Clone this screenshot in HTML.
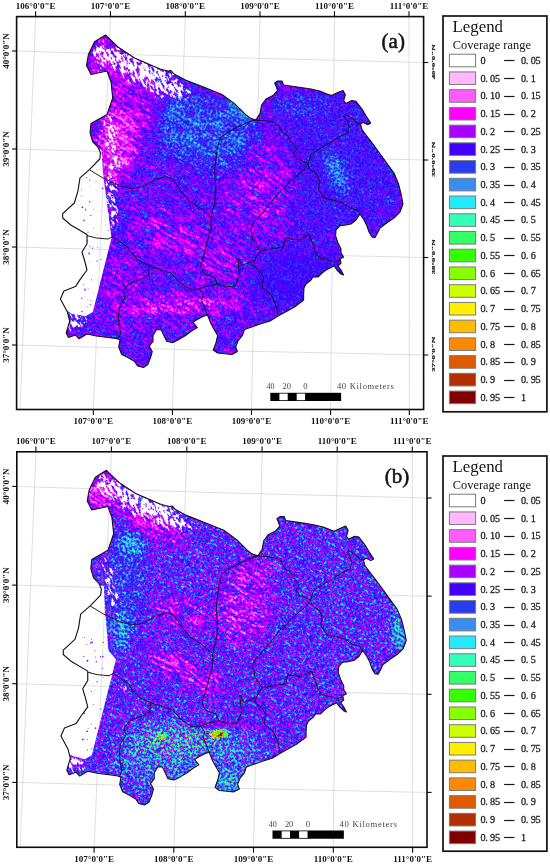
<!DOCTYPE html>
<html><head><meta charset="utf-8"><title>Coverage range maps</title>
<style>
html,body{margin:0;padding:0;background:#fff;}
body{width:550px;height:864px;overflow:hidden;}
svg{display:block;font-family:"Liberation Serif",serif;}
.tk{font-size:9px;font-weight:bold;fill:#111;}
.tr{font-size:5.2px;font-weight:bold;fill:#333;}
.lg{font-size:10.2px;fill:#1c1c1c;stroke:#1c1c1c;stroke-width:0.28px;}
.ld{stroke-width:0.7px;}
.sb{font-size:8.6px;fill:#444;}
.pl{font-size:21px;fill:#111;stroke:#111;stroke-width:0.5px;}
</style></head><body>
<svg width="550" height="864" viewBox="0 0 550 864">
<defs><filter id="b1" x="-50%" y="-50%" width="200%" height="200%" color-interpolation-filters="sRGB"><feGaussianBlur stdDeviation="1"/></filter><filter id="b2" x="-50%" y="-50%" width="200%" height="200%" color-interpolation-filters="sRGB"><feGaussianBlur stdDeviation="2"/></filter><filter id="b4" x="-50%" y="-50%" width="200%" height="200%" color-interpolation-filters="sRGB"><feGaussianBlur stdDeviation="4"/></filter><filter id="b6" x="-50%" y="-50%" width="200%" height="200%" color-interpolation-filters="sRGB"><feGaussianBlur stdDeviation="6"/></filter><filter id="b8" x="-50%" y="-50%" width="200%" height="200%" color-interpolation-filters="sRGB"><feGaussianBlur stdDeviation="8"/></filter><filter id="b10" x="-50%" y="-50%" width="200%" height="200%" color-interpolation-filters="sRGB"><feGaussianBlur stdDeviation="10"/></filter><filter id="b14" x="-50%" y="-50%" width="200%" height="200%" color-interpolation-filters="sRGB"><feGaussianBlur stdDeviation="14"/></filter><clipPath id="clipwa"><polygon points="40,140 101.5,150 103,173 106,196 109,219 111.5,238 92.8,312 86,316 72,314 60,306 40,300"/></clipPath><clipPath id="clipwb"><polygon points="40,140 103,150 104,173 106,196 107.5,214 115,223 91,318 84,322 70,318 60,306 40,300"/></clipPath><clipPath id="clipmap"><polygon points="105.5,35.0 118.0,47.0 134.5,58.0 160.0,69.0 168.0,71.0 171.0,70.5 174.0,74.0 185.5,80.0 203.6,87.0 222.0,94.5 234.5,103.6 245.5,114.5 250.0,118.0 255.8,120.0 260.0,113.6 261.6,105.0 266.0,99.0 273.0,95.6 277.6,90.4 274.7,83.0 277.6,81.0 282.0,81.0 283.5,85.0 290.7,86.0 301.0,87.5 311.0,89.0 319.8,91.0 327.0,93.9 331.5,95.6 337.3,92.7 343.0,90.4 345.4,94.7 343.7,100.5 346.0,103.5 351.8,100.5 356.0,101.4 362.0,109.0 366.4,116.5 370.7,123.0 367.8,124.7 363.5,122.4 360.5,123.8 362.0,129.6 366.4,135.5 372.0,142.7 379.5,153.0 386.7,163.0 394.0,173.0 398.4,183.5 401.3,195.0 403.0,204.0 400.0,212.0 394.0,218.0 388.0,222.0 380.0,228.0 377.0,234.0 375.0,237.6 372.0,237.0 369.0,232.0 367.0,226.0 364.0,220.0 360.0,214.0 356.0,220.0 351.0,224.0 346.0,225.0 340.0,225.6 336.0,230.0 335.6,236.0 338.0,243.0 341.0,249.0 341.0,253.0 343.6,257.0 340.0,259.0 341.0,263.0 338.0,266.0 341.0,270.0 343.6,275.0 341.0,274.0 337.0,270.0 334.0,266.0 330.0,268.0 326.0,270.0 322.0,273.0 318.0,277.0 313.0,277.0 311.0,280.0 306.0,284.0 304.0,288.0 303.6,294.5 303.6,300.0 294.5,307.0 278.0,316.0 270.0,321.0 261.0,323.8 252.5,326.7 244.4,329.6 242.4,335.5 238.0,341.0 235.7,347.0 237.4,351.5 232.0,354.4 225.0,353.8 217.6,353.0 213.3,350.0 216.0,342.7 217.6,335.5 213.3,328.0 210.4,322.4 207.5,315.0 203.0,316.5 197.3,319.5 193.0,322.4 197.3,327.6 191.5,331.0 185.6,335.5 178.4,339.8 172.5,342.7 166.7,341.3 163.8,335.5 161.0,329.6 156.5,329.6 153.0,335.5 153.0,341.3 149.3,346.2 152.2,351.5 150.7,357.3 147.8,364.5 143.5,367.5 137.6,366.0 134.7,361.6 127.5,357.3 121.6,354.4 118.7,347.0 120.0,339.8 115.8,338.4 107.9,337.5 96.3,336.0 87.0,334.0 79.0,338.7 75.5,335.0 68.5,337.5 66.2,333.0 69.7,321.0 67.4,312.0 60.4,299.0 63.9,291.0 75.5,286.6 80.0,279.6 87.0,270.0 84.7,261.0 82.0,252.0 87.0,243.8 87.0,234.5 70.8,225.0 62.7,218.0 62.7,213.7 74.3,203.0 77.8,191.7 80.0,177.8 89.4,169.7 99.8,159.0 100.5,153.0 98.0,147.0 92.7,141.8 90.0,132.7 91.0,123.6 107.0,114.5 112.7,98.0 111.0,82.0 107.0,71.0 91.0,74.5 86.5,65.5 88.4,54.5 94.5,41.8"/></clipPath><filter id="texa" filterUnits="userSpaceOnUse" x="-100" y="-150" width="700" height="700" color-interpolation-filters="sRGB"><feColorMatrix in="SourceGraphic" type="matrix" values="1 0 0 0 0  1 0 0 0 0  1 0 0 0 0  0 0 0 0 1" result="V"/><feColorMatrix in="SourceGraphic" type="matrix" values="0 1 0 0 0  0 1 0 0 0  0 1 0 0 0  0 0 0 0 1" result="MI"/><feColorMatrix in="SourceGraphic" type="matrix" values="0 0 1 0 0  0 0 1 0 0  0 0 1 0 0  0 0 0 0 1" result="MA"/><feTurbulence type="fractalNoise" baseFrequency="0.07 0.36" numOctaves="3" seed="3" result="nA"/><feColorMatrix in="nA" type="matrix" values="1.5 0 0 0 -0.450  1.5 0 0 0 -0.450  1.5 0 0 0 -0.450  0 0 0 0 1" result="NA"/><feTurbulence type="fractalNoise" baseFrequency="0.42 0.42" numOctaves="2" seed="10" result="nI"/><feColorMatrix in="nI" type="matrix" values="1.5 0 0 0 -0.450  1.5 0 0 0 -0.450  1.5 0 0 0 -0.450  0 0 0 0 1" result="NI"/><feComposite in="MI" in2="NI" operator="arithmetic" k1="1" k2="0" k3="0" k4="0" result="pI"/><feComposite in="MA" in2="NA" operator="arithmetic" k1="1" k2="0" k3="0" k4="0" result="pA"/><feComposite in="V" in2="pI" operator="arithmetic" k1="0" k2="1" k3="1" k4="0" result="e1"/><feComposite in="e1" in2="pA" operator="arithmetic" k1="0" k2="1" k3="1" k4="0" result="v"/><feComponentTransfer in="v"><feFuncR type="discrete" tableValues="1.000 1.000 1.000 1.000 0.667 0.267 0.165 0.231 0.133 0.200 0.200 0.200 0.533 0.800 1.000 1.000 1.000 0.878 0.690 0.502"/><feFuncG type="discrete" tableValues="1.000 0.722 0.361 0.000 0.000 0.000 0.235 0.549 0.918 1.000 1.000 1.000 1.000 1.000 0.933 0.733 0.533 0.353 0.188 0.000"/><feFuncB type="discrete" tableValues="1.000 1.000 1.000 1.000 1.000 1.000 0.941 0.941 1.000 0.733 0.400 0.000 0.000 0.000 0.000 0.000 0.000 0.000 0.000 0.000"/></feComponentTransfer><feGaussianBlur stdDeviation="0.55"/></filter><filter id="texb" filterUnits="userSpaceOnUse" x="-100" y="-150" width="700" height="700" color-interpolation-filters="sRGB"><feColorMatrix in="SourceGraphic" type="matrix" values="1 0 0 0 0  1 0 0 0 0  1 0 0 0 0  0 0 0 0 1" result="V"/><feColorMatrix in="SourceGraphic" type="matrix" values="0 1 0 0 0  0 1 0 0 0  0 1 0 0 0  0 0 0 0 1" result="MI"/><feColorMatrix in="SourceGraphic" type="matrix" values="0 0 1 0 0  0 0 1 0 0  0 0 1 0 0  0 0 0 0 1" result="MA"/><feTurbulence type="fractalNoise" baseFrequency="0.07 0.36" numOctaves="3" seed="11" result="nA"/><feColorMatrix in="nA" type="matrix" values="1.5 0 0 0 -0.450  1.5 0 0 0 -0.450  1.5 0 0 0 -0.450  0 0 0 0 1" result="NA"/><feTurbulence type="fractalNoise" baseFrequency="0.42 0.42" numOctaves="2" seed="18" result="nI"/><feColorMatrix in="nI" type="matrix" values="1.5 0 0 0 -0.450  1.5 0 0 0 -0.450  1.5 0 0 0 -0.450  0 0 0 0 1" result="NI"/><feComposite in="MI" in2="NI" operator="arithmetic" k1="1" k2="0" k3="0" k4="0" result="pI"/><feComposite in="MA" in2="NA" operator="arithmetic" k1="1" k2="0" k3="0" k4="0" result="pA"/><feComposite in="V" in2="pI" operator="arithmetic" k1="0" k2="1" k3="1" k4="0" result="e1"/><feComposite in="e1" in2="pA" operator="arithmetic" k1="0" k2="1" k3="1" k4="0" result="v"/><feComponentTransfer in="v"><feFuncR type="discrete" tableValues="1.000 1.000 1.000 1.000 0.667 0.267 0.165 0.231 0.133 0.200 0.200 0.200 0.533 0.800 1.000 1.000 1.000 0.878 0.690 0.502"/><feFuncG type="discrete" tableValues="1.000 0.722 0.361 0.000 0.000 0.000 0.235 0.549 0.918 1.000 1.000 1.000 1.000 1.000 0.933 0.733 0.533 0.353 0.188 0.000"/><feFuncB type="discrete" tableValues="1.000 1.000 1.000 1.000 1.000 1.000 0.941 0.941 1.000 0.733 0.400 0.000 0.000 0.000 0.000 0.000 0.000 0.000 0.000 0.000"/></feComponentTransfer><feGaussianBlur stdDeviation="0.55"/></filter><filter id="spkW" filterUnits="userSpaceOnUse" x="-100" y="-150" width="700" height="700" color-interpolation-filters="sRGB"><feTurbulence type="fractalNoise" baseFrequency="0.17 0.42" numOctaves="3" seed="5" result="n"/><feColorMatrix in="n" type="matrix" values="0 0 0 0 1  0 0 0 0 1  0 0 0 0 1  1.6 0 0 0 -0.3" result="na"/><feComposite in="SourceGraphic" in2="na" operator="arithmetic" k1="0" k2="1" k3="1" k4="-0.5" result="t"/><feComponentTransfer in="t" result="tt"><feFuncA type="discrete" tableValues="0 0 0 0 0 0 0 0 0 0 0 0 0 0 0 0 0 0 1 1"/></feComponentTransfer><feFlood flood-color="#fff" result="w"/><feComposite in="w" in2="tt" operator="in"/><feGaussianBlur stdDeviation="0.4"/></filter></defs>
<rect width="550" height="864" fill="#fff"/>
<!-- panel a -->
<g>
<g stroke="#c6c6c6" stroke-width="0.55" fill="none"><line x1="35.6" y1="16.6" x2="20.0" y2="409.5"/><line x1="110.5" y1="16.6" x2="93.3" y2="409.5"/><line x1="185.3" y1="16.6" x2="172.4" y2="409.5"/><line x1="260" y1="16.6" x2="251.5" y2="409.5"/><line x1="334.5" y1="16.6" x2="330.6" y2="409.5"/><line x1="409" y1="16.6" x2="409.3" y2="409.5"/><path d="M16.6,51 Q220.10000000000002,57.95 423.6,62.5" fill="none"/><path d="M16.6,149 Q220.10000000000002,155.7 423.6,160" fill="none"/><path d="M16.6,247 Q220.10000000000002,253.45 423.6,257.5" fill="none"/><path d="M16.6,345 Q220.10000000000002,351.2 423.6,355" fill="none"/></g>
<g clip-path="url(#clipmap)">
<g transform="rotate(32 230 200)"><g filter="url(#texa)"><g transform="rotate(-32 230 200)">
<rect x="-100" y="-150" width="700" height="700" fill="#2a2e2b"/>
<ellipse cx="202" cy="132" rx="60" ry="33" fill="#3f331f" opacity="0.95" filter="url(#b10)" transform="rotate(18 202 132)"/>
<ellipse cx="240" cy="112" rx="16" ry="8" fill="#4b331a" opacity="0.85" filter="url(#b4)" transform="rotate(30 240 112)"/>
<ellipse cx="128" cy="92" rx="26" ry="48" fill="#1e2e2b" opacity="0.9" filter="url(#b8)" transform="rotate(-25 128 92)"/>
<ellipse cx="340" cy="160" rx="68" ry="80" fill="#3a290f" opacity="0.95" filter="url(#b14)"/>
<ellipse cx="337" cy="172" rx="8" ry="24" fill="#493814" opacity="0.9" filter="url(#b4)" transform="rotate(-25 337 172)"/>
<ellipse cx="300" cy="108" rx="30" ry="10" fill="#3d3314" opacity="0.8" filter="url(#b6)" transform="rotate(8 300 108)"/>
<ellipse cx="298" cy="280" rx="48" ry="34" fill="#3d1a0d" opacity="1" filter="url(#b8)"/>
<ellipse cx="116" cy="144" rx="21" ry="38" fill="#0b3833" opacity="0.97" filter="url(#b6)" transform="rotate(10 116 144)"/>
<ellipse cx="102" cy="60" rx="14" ry="20" fill="#1c2e2b" opacity="0.9" filter="url(#b6)"/>
<ellipse cx="262" cy="190" rx="30" ry="48" fill="#1b2b40" opacity="0.85" filter="url(#b10)" transform="rotate(20 262 190)"/>
<ellipse cx="190" cy="245" rx="60" ry="18" fill="#19214c" opacity="0.85" filter="url(#b8)" transform="rotate(30 190 245)"/>
<ellipse cx="185" cy="305" rx="62" ry="9" fill="#0b4033" opacity="0.85" filter="url(#b6)" transform="rotate(-5 185 305)"/>
<ellipse cx="122" cy="290" rx="20" ry="40" fill="#212e2b" opacity="0.8" filter="url(#b8)" transform="rotate(10 122 290)"/>
<ellipse cx="75" cy="318" rx="14" ry="10" fill="#322e2b" opacity="0.9" filter="url(#b4)"/>
</g></g></g>
<polygon points="40,140 101.5,150 103,173 106,196 109,219 111.5,238 92.8,312 86,316 72,314 60,306 40,300" fill="#fff"/>
<g clip-path="url(#clipwa)"><g stroke="#c6c6c6" stroke-width="0.55" fill="none"><line x1="35.6" y1="16.6" x2="20.0" y2="409.5"/><line x1="110.5" y1="16.6" x2="93.3" y2="409.5"/><line x1="185.3" y1="16.6" x2="172.4" y2="409.5"/><line x1="260" y1="16.6" x2="251.5" y2="409.5"/><line x1="334.5" y1="16.6" x2="330.6" y2="409.5"/><line x1="409" y1="16.6" x2="409.3" y2="409.5"/><path d="M16.6,51 Q220.10000000000002,57.95 423.6,62.5" fill="none"/><path d="M16.6,149 Q220.10000000000002,155.7 423.6,160" fill="none"/><path d="M16.6,247 Q220.10000000000002,253.45 423.6,257.5" fill="none"/><path d="M16.6,345 Q220.10000000000002,351.2 423.6,355" fill="none"/></g></g>
<g opacity="0.85"><circle cx="82.4" cy="207.3" r="0.9" fill="#4400ff"/><circle cx="81.5" cy="196.2" r="0.9" fill="#d9a0ff"/><circle cx="90.7" cy="300.8" r="0.5" fill="#aa00ff"/><circle cx="89.8" cy="246.3" r="0.6" fill="#aa00ff"/><circle cx="101.7" cy="210.9" r="0.5" fill="#ff5cff"/><circle cx="83.4" cy="284.7" r="0.7" fill="#ff5cff"/><circle cx="97.1" cy="260.9" r="0.7" fill="#aa00ff"/><circle cx="85.4" cy="290.7" r="0.9" fill="#d9a0ff"/><circle cx="85.7" cy="209.1" r="0.7" fill="#aa00ff"/><circle cx="90.2" cy="304.4" r="0.7" fill="#aa00ff"/><circle cx="87.8" cy="299.5" r="0.7" fill="#d9a0ff"/><circle cx="89.7" cy="201.7" r="0.7" fill="#4400ff"/><circle cx="86.9" cy="236.8" r="0.7" fill="#aa00ff"/><circle cx="90.6" cy="186.1" r="0.7" fill="#d9a0ff"/><circle cx="92.5" cy="248.2" r="0.7" fill="#aa00ff"/><circle cx="82.1" cy="311.6" r="0.9" fill="#aa00ff"/><circle cx="90.2" cy="262.0" r="0.6" fill="#ff5cff"/><circle cx="97.7" cy="234.7" r="0.6" fill="#ff5cff"/><circle cx="81.4" cy="188.8" r="0.6" fill="#ff5cff"/><circle cx="91.5" cy="279.8" r="0.6" fill="#aa00ff"/><circle cx="84.1" cy="220.4" r="0.9" fill="#aa00ff"/><circle cx="96.0" cy="180.9" r="0.7" fill="#ff5cff"/><circle cx="86.6" cy="177.5" r="0.6" fill="#4400ff"/><circle cx="93.3" cy="293.0" r="0.5" fill="#ff5cff"/><circle cx="101.2" cy="259.6" r="0.7" fill="#aa00ff"/><circle cx="93.8" cy="209.3" r="0.6" fill="#ff5cff"/><circle cx="89.2" cy="253.5" r="0.9" fill="#aa00ff"/><circle cx="106.1" cy="225.0" r="0.7" fill="#d9a0ff"/><circle cx="102.6" cy="188.3" r="0.9" fill="#aa00ff"/><circle cx="81.4" cy="190.6" r="0.6" fill="#d9a0ff"/><circle cx="83.2" cy="267.7" r="0.5" fill="#d9a0ff"/><circle cx="87.0" cy="242.2" r="0.5" fill="#aa00ff"/><circle cx="84.8" cy="289.4" r="0.9" fill="#aa00ff"/><circle cx="86.9" cy="240.5" r="0.9" fill="#4400ff"/><circle cx="89.7" cy="180.1" r="0.6" fill="#4400ff"/><circle cx="88.2" cy="288.9" r="0.5" fill="#aa00ff"/><circle cx="85.6" cy="209.9" r="0.6" fill="#aa00ff"/><circle cx="88.0" cy="232.1" r="0.7" fill="#aa00ff"/><circle cx="84.5" cy="297.1" r="0.5" fill="#d9a0ff"/><circle cx="108.1" cy="230.2" r="0.5" fill="#4400ff"/><circle cx="93.6" cy="228.1" r="0.6" fill="#ff5cff"/><circle cx="90.8" cy="215.6" r="0.7" fill="#4400ff"/><circle cx="97.6" cy="247.3" r="0.7" fill="#ff5cff"/><circle cx="92.6" cy="301.4" r="0.5" fill="#ff5cff"/><circle cx="87.9" cy="306.8" r="0.5" fill="#4400ff"/><circle cx="81.8" cy="298.2" r="0.7" fill="#aa00ff"/></g>
<g transform="rotate(64 230 200)"><g filter="url(#spkW)"><g transform="rotate(-64 230 200)">
<ellipse cx="146" cy="73" rx="54" ry="17" fill="#fff" opacity="1" filter="url(#b6)" transform="rotate(28 146 73)"/><ellipse cx="100" cy="54" rx="9" ry="15" fill="#fff" opacity="0.95" filter="url(#b4)"/><ellipse cx="112" cy="140" rx="9" ry="36" fill="#fff" opacity="0.9" filter="url(#b4)" transform="rotate(-12 112 140)"/><ellipse cx="112" cy="198" rx="8" ry="42" fill="#fff" opacity="0.9" filter="url(#b4)" transform="rotate(-5 112 198)"/><ellipse cx="76" cy="322" rx="16" ry="12" fill="#fff" opacity="0.9" filter="url(#b4)"/><ellipse cx="170" cy="215" rx="5" ry="3" fill="#fff" opacity="0.9" filter="url(#b2)"/>
</g></g></g>
</g>
<polygon points="105.5,35.0 118.0,47.0 134.5,58.0 160.0,69.0 168.0,71.0 171.0,70.5 174.0,74.0 185.5,80.0 203.6,87.0 222.0,94.5 234.5,103.6 245.5,114.5 250.0,118.0 255.8,120.0 260.0,113.6 261.6,105.0 266.0,99.0 273.0,95.6 277.6,90.4 274.7,83.0 277.6,81.0 282.0,81.0 283.5,85.0 290.7,86.0 301.0,87.5 311.0,89.0 319.8,91.0 327.0,93.9 331.5,95.6 337.3,92.7 343.0,90.4 345.4,94.7 343.7,100.5 346.0,103.5 351.8,100.5 356.0,101.4 362.0,109.0 366.4,116.5 370.7,123.0 367.8,124.7 363.5,122.4 360.5,123.8 362.0,129.6 366.4,135.5 372.0,142.7 379.5,153.0 386.7,163.0 394.0,173.0 398.4,183.5 401.3,195.0 403.0,204.0 400.0,212.0 394.0,218.0 388.0,222.0 380.0,228.0 377.0,234.0 375.0,237.6 372.0,237.0 369.0,232.0 367.0,226.0 364.0,220.0 360.0,214.0 356.0,220.0 351.0,224.0 346.0,225.0 340.0,225.6 336.0,230.0 335.6,236.0 338.0,243.0 341.0,249.0 341.0,253.0 343.6,257.0 340.0,259.0 341.0,263.0 338.0,266.0 341.0,270.0 343.6,275.0 341.0,274.0 337.0,270.0 334.0,266.0 330.0,268.0 326.0,270.0 322.0,273.0 318.0,277.0 313.0,277.0 311.0,280.0 306.0,284.0 304.0,288.0 303.6,294.5 303.6,300.0 294.5,307.0 278.0,316.0 270.0,321.0 261.0,323.8 252.5,326.7 244.4,329.6 242.4,335.5 238.0,341.0 235.7,347.0 237.4,351.5 232.0,354.4 225.0,353.8 217.6,353.0 213.3,350.0 216.0,342.7 217.6,335.5 213.3,328.0 210.4,322.4 207.5,315.0 203.0,316.5 197.3,319.5 193.0,322.4 197.3,327.6 191.5,331.0 185.6,335.5 178.4,339.8 172.5,342.7 166.7,341.3 163.8,335.5 161.0,329.6 156.5,329.6 153.0,335.5 153.0,341.3 149.3,346.2 152.2,351.5 150.7,357.3 147.8,364.5 143.5,367.5 137.6,366.0 134.7,361.6 127.5,357.3 121.6,354.4 118.7,347.0 120.0,339.8 115.8,338.4 107.9,337.5 96.3,336.0 87.0,334.0 79.0,338.7 75.5,335.0 68.5,337.5 66.2,333.0 69.7,321.0 67.4,312.0 60.4,299.0 63.9,291.0 75.5,286.6 80.0,279.6 87.0,270.0 84.7,261.0 82.0,252.0 87.0,243.8 87.0,234.5 70.8,225.0 62.7,218.0 62.7,213.7 74.3,203.0 77.8,191.7 80.0,177.8 89.4,169.7 99.8,159.0 100.5,153.0 98.0,147.0 92.7,141.8 90.0,132.7 91.0,123.6 107.0,114.5 112.7,98.0 111.0,82.0 107.0,71.0 91.0,74.5 86.5,65.5 88.4,54.5 94.5,41.8" fill="none" stroke="#141018" stroke-width="1.1" stroke-linejoin="round"/>
<polyline points="89.4,169.7 103.0,178.0 119.4,185.5 131.0,188.5 142.6,187.0 154.0,180.0 165.5,176.5 172.7,179.0 180.0,190.0 189.0,201.0 200.0,208.0 211.0,217.0 211.0,228.0 207.0,243.0 203.6,255.5 200.5,266.0 202.7,271.0 206.0,274.4 214.0,277.0 217.3,284.0" fill="none" stroke="#141018" stroke-width="0.95" stroke-linejoin="round"/>
<polyline points="220.0,138.0 217.0,150.0 214.5,170.0 216.0,192.0 214.0,206.0 211.0,217.0" fill="none" stroke="#141018" stroke-width="0.95" stroke-linejoin="round"/>
<polyline points="220.0,138.0 227.0,132.7 238.0,127.0 250.0,121.5 255.8,120.0" fill="none" stroke="#141018" stroke-width="0.95" stroke-linejoin="round"/>
<polyline points="255.8,120.0 267.5,121.0 274.7,122.4 279.0,125.3 282.0,132.5 287.8,135.5 292.0,142.7 296.5,148.5 293.6,154.4 296.5,158.7 303.8,161.6 308.0,163.7" fill="none" stroke="#141018" stroke-width="0.95" stroke-linejoin="round"/>
<polyline points="308.0,163.7 311.0,154.4 322.7,147.0 334.4,139.8 347.5,132.5 349.0,126.7 347.5,121.0 343.7,116.5 346.0,115.0 351.8,118.0 357.6,123.8 360.5,123.8" fill="none" stroke="#141018" stroke-width="0.95" stroke-linejoin="round"/>
<polyline points="308.0,163.7 303.8,170.0 296.5,176.0 289.0,182.0 285.0,187.8 277.6,193.6 273.0,200.0 265.5,209.0 258.0,218.0 254.5,221.0 251.0,227.0 252.7,240.0 260.0,251.0 254.5,260.0 252.7,265.5 260.0,271.0 263.6,278.0 262.0,287.0 271.0,294.5 276.0,305.5 278.0,316.0" fill="none" stroke="#141018" stroke-width="0.95" stroke-linejoin="round"/>
<polyline points="308.0,163.7 309.6,169.0 317.0,174.7 319.8,182.0 318.4,189.0 324.0,198.0 332.7,200.0 343.0,203.0 350.0,208.0 357.0,210.0 360.0,214.0" fill="none" stroke="#141018" stroke-width="0.95" stroke-linejoin="round"/>
<polyline points="260.0,251.0 271.0,249.0 283.6,247.0 285.5,238.0 298.0,240.0 309.0,234.5 312.7,243.6 316.0,254.0 320.0,258.0 328.0,260.0 334.0,262.0 340.0,260.0" fill="none" stroke="#141018" stroke-width="0.95" stroke-linejoin="round"/>
<polyline points="254.5,260.0 242.0,265.5 238.0,258.0 238.5,268.0 240.0,274.0 238.0,280.0 235.0,286.0 226.4,286.9 217.3,284.0 207.5,286.0 198.7,289.0" fill="none" stroke="#141018" stroke-width="0.95" stroke-linejoin="round"/>
<polyline points="87.0,235.6 96.3,238.0 108.0,239.0 112.5,236.8 119.4,241.4 127.5,247.0 132.0,254.0 139.0,261.0 149.5,265.7 158.8,269.0 171.0,273.0 179.0,282.0 186.0,287.0 192.0,289.5 198.7,289.0" fill="none" stroke="#141018" stroke-width="0.95" stroke-linejoin="round"/>
<polyline points="198.7,289.0 203.0,294.7 201.6,300.5 204.5,307.8 207.5,315.0" fill="none" stroke="#141018" stroke-width="0.95" stroke-linejoin="round"/>
<polyline points="149.5,265.7 148.4,275.0 140.0,279.6 128.7,284.0 123.0,291.0 125.0,298.0 119.4,307.0 118.3,319.0 120.6,333.0 119.2,338.0" fill="none" stroke="#141018" stroke-width="0.95" stroke-linejoin="round"/>
<g>
<rect x="270.3" y="392.8" width="70.8" height="8.2" fill="#000"/>
<rect x="279.4" y="393.6" width="8.3" height="6.6" fill="#fff"/>
<rect x="296.7" y="393.6" width="8.4" height="6.6" fill="#fff"/>
<text class="sb" x="266.6" y="389.1" textLength="8" lengthAdjust="spacingAndGlyphs">40</text>
<text class="sb" x="282.6" y="389.1" textLength="8.4" lengthAdjust="spacingAndGlyphs">20</text>
<text class="sb" x="303.2" y="389.1">0</text>
<text class="sb" x="336.9" y="389.1" textLength="57" lengthAdjust="spacing">40 Kilometers</text>
</g>
</g>
<rect x="16.6" y="16.6" width="407.00" height="392.90" fill="none" stroke="#0c0c0c" stroke-width="1.6"/>
<g stroke="#0c0c0c" stroke-width="1.1"><line x1="35.6" y1="11.200000000000001" x2="35.6" y2="16.6"/><line x1="110.5" y1="11.200000000000001" x2="110.5" y2="16.6"/><line x1="185.3" y1="11.200000000000001" x2="185.3" y2="16.6"/><line x1="260.0" y1="11.200000000000001" x2="260.0" y2="16.6"/><line x1="334.5" y1="11.200000000000001" x2="334.5" y2="16.6"/><line x1="409.0" y1="11.200000000000001" x2="409.0" y2="16.6"/><line x1="93.3" y1="409.5" x2="93.3" y2="414.9"/><line x1="172.4" y1="409.5" x2="172.4" y2="414.9"/><line x1="251.5" y1="409.5" x2="251.5" y2="414.9"/><line x1="330.6" y1="409.5" x2="330.6" y2="414.9"/><line x1="409.3" y1="409.5" x2="409.3" y2="414.9"/><line x1="12.000000000000002" y1="51.0" x2="16.6" y2="51.0"/><line x1="12.000000000000002" y1="149.0" x2="16.6" y2="149.0"/><line x1="12.000000000000002" y1="247.0" x2="16.6" y2="247.0"/><line x1="12.000000000000002" y1="345.0" x2="16.6" y2="345.0"/><line x1="423.6" y1="62.5" x2="428.20000000000005" y2="62.5"/><line x1="423.6" y1="160.0" x2="428.20000000000005" y2="160.0"/><line x1="423.6" y1="257.5" x2="428.20000000000005" y2="257.5"/><line x1="423.6" y1="355.0" x2="428.20000000000005" y2="355.0"/></g>
<text class="tk" text-anchor="middle" x="35.6" y="9.1">106°0'0"E</text>
<text class="tk" text-anchor="middle" x="110.5" y="9.1">107°0'0"E</text>
<text class="tk" text-anchor="middle" x="185.3" y="9.1">108°0'0"E</text>
<text class="tk" text-anchor="middle" x="260.0" y="9.1">109°0'0"E</text>
<text class="tk" text-anchor="middle" x="334.5" y="9.1">110°0'0"E</text>
<text class="tk" text-anchor="middle" x="409.0" y="9.1">111°0'0"E</text>
<text class="tk" text-anchor="middle" x="93.3" y="423.9">107°0'0"E</text>
<text class="tk" text-anchor="middle" x="172.4" y="423.9">108°0'0"E</text>
<text class="tk" text-anchor="middle" x="251.5" y="423.9">109°0'0"E</text>
<text class="tk" text-anchor="middle" x="330.6" y="423.9">110°0'0"E</text>
<text class="tk" text-anchor="middle" x="409.3" y="423.9">111°0'0"E</text>
<text class="tk" text-anchor="middle" transform="translate(8.5,51.0) rotate(-90)">40°0'0"N</text>
<text class="tk" text-anchor="middle" transform="translate(8.5,149.0) rotate(-90)">39°0'0"N</text>
<text class="tk" text-anchor="middle" transform="translate(8.5,247.0) rotate(-90)">38°0'0"N</text>
<text class="tk" text-anchor="middle" transform="translate(8.5,345.0) rotate(-90)">37°0'0"N</text>
<text class="tk" text-anchor="middle" style="fill:#111;stroke:#111;stroke-width:0.3px" transform="translate(435.20000000000005,61.9) rotate(-90) scale(0.98,0.55)">40°0'0"N</text>
<text class="tk" text-anchor="middle" style="fill:#111;stroke:#111;stroke-width:0.3px" transform="translate(435.20000000000005,159.4) rotate(-90) scale(0.98,0.55)">39°0'0"N</text>
<text class="tk" text-anchor="middle" style="fill:#111;stroke:#111;stroke-width:0.3px" transform="translate(435.20000000000005,256.9) rotate(-90) scale(0.98,0.55)">38°0'0"N</text>
<text class="tk" text-anchor="middle" style="fill:#111;stroke:#111;stroke-width:0.3px" transform="translate(435.20000000000005,354.4) rotate(-90) scale(0.98,0.55)">37°0'0"N</text>
<text class="pl" x="381.6" y="47.6">(a)</text>
<rect x="443.0" y="16.0" width="103.9" height="395.8" fill="#fff" stroke="#111" stroke-width="1.7"/>
<text x="452.6" y="31.6" font-size="16.8" fill="#111">Legend</text>
<text x="452.8" y="49.4" font-size="12.4" fill="#111">Coverage range</text>
<rect x="449.4" y="54.20" width="26.2" height="12.6" fill="#ffffff" stroke="#7c7c7c" stroke-width="1"/>
<text class="lg" x="480.40" y="63.90">0</text>
<text class="lg ld" x="504.4" y="63.40" textLength="9.6" lengthAdjust="spacingAndGlyphs">—</text>
<text class="lg" x="521.00 525.85 530.70 535.55" y="63.90">0.05</text>
<rect x="449.4" y="71.93" width="26.2" height="12.6" fill="#ffb8ff" stroke="#7c7c7c" stroke-width="1"/>
<text class="lg" x="480.40 485.25 490.10 494.95" y="81.63">0.05</text>
<text class="lg ld" x="504.4" y="81.13" textLength="9.6" lengthAdjust="spacingAndGlyphs">—</text>
<text class="lg" x="521.00 525.85 530.70" y="81.63">0.1</text>
<rect x="449.4" y="89.66" width="26.2" height="12.6" fill="#ff5cff" stroke="#7c7c7c" stroke-width="1"/>
<text class="lg" x="480.40 485.25 490.10 494.95" y="99.36">0.10</text>
<text class="lg ld" x="504.4" y="98.86" textLength="9.6" lengthAdjust="spacingAndGlyphs">—</text>
<text class="lg" x="521.00 525.85 530.70 535.55" y="99.36">0.15</text>
<rect x="449.4" y="107.39" width="26.2" height="12.6" fill="#ff00ff" stroke="#7c7c7c" stroke-width="1"/>
<text class="lg" x="480.40 485.25 490.10 494.95" y="117.09">0.15</text>
<text class="lg ld" x="504.4" y="116.59" textLength="9.6" lengthAdjust="spacingAndGlyphs">—</text>
<text class="lg" x="521.00 525.85 530.70" y="117.09">0.2</text>
<rect x="449.4" y="125.12" width="26.2" height="12.6" fill="#aa00ff" stroke="#7c7c7c" stroke-width="1"/>
<text class="lg" x="480.40 485.25 490.10" y="134.82">0.2</text>
<text class="lg ld" x="504.4" y="134.32" textLength="9.6" lengthAdjust="spacingAndGlyphs">—</text>
<text class="lg" x="521.00 525.85 530.70 535.55" y="134.82">0.25</text>
<rect x="449.4" y="142.85" width="26.2" height="12.6" fill="#4400ff" stroke="#7c7c7c" stroke-width="1"/>
<text class="lg" x="480.40 485.25 490.10 494.95" y="152.55">0.25</text>
<text class="lg ld" x="504.4" y="152.05" textLength="9.6" lengthAdjust="spacingAndGlyphs">—</text>
<text class="lg" x="521.00 525.85 530.70" y="152.55">0.3</text>
<rect x="449.4" y="160.58" width="26.2" height="12.6" fill="#2a3cf0" stroke="#7c7c7c" stroke-width="1"/>
<text class="lg" x="480.40 485.25 490.10" y="170.28">0.3</text>
<text class="lg ld" x="504.4" y="169.78" textLength="9.6" lengthAdjust="spacingAndGlyphs">—</text>
<text class="lg" x="521.00 525.85 530.70 535.55" y="170.28">0.35</text>
<rect x="449.4" y="178.31" width="26.2" height="12.6" fill="#3b8cf0" stroke="#7c7c7c" stroke-width="1"/>
<text class="lg" x="480.40 485.25 490.10 494.95" y="188.01">0.35</text>
<text class="lg ld" x="504.4" y="187.51" textLength="9.6" lengthAdjust="spacingAndGlyphs">—</text>
<text class="lg" x="521.00 525.85 530.70" y="188.01">0.4</text>
<rect x="449.4" y="196.04" width="26.2" height="12.6" fill="#22eaff" stroke="#7c7c7c" stroke-width="1"/>
<text class="lg" x="480.40 485.25 490.10" y="205.74">0.4</text>
<text class="lg ld" x="504.4" y="205.24" textLength="9.6" lengthAdjust="spacingAndGlyphs">—</text>
<text class="lg" x="521.00 525.85 530.70 535.55" y="205.74">0.45</text>
<rect x="449.4" y="213.77" width="26.2" height="12.6" fill="#33ffbb" stroke="#7c7c7c" stroke-width="1"/>
<text class="lg" x="480.40 485.25 490.10 494.95" y="223.47">0.45</text>
<text class="lg ld" x="504.4" y="222.97" textLength="9.6" lengthAdjust="spacingAndGlyphs">—</text>
<text class="lg" x="521.00 525.85 530.70" y="223.47">0.5</text>
<rect x="449.4" y="231.50" width="26.2" height="12.6" fill="#33ff66" stroke="#7c7c7c" stroke-width="1"/>
<text class="lg" x="480.40 485.25 490.10" y="241.20">0.5</text>
<text class="lg ld" x="504.4" y="240.70" textLength="9.6" lengthAdjust="spacingAndGlyphs">—</text>
<text class="lg" x="521.00 525.85 530.70 535.55" y="241.20">0.55</text>
<rect x="449.4" y="249.23" width="26.2" height="12.6" fill="#33ff00" stroke="#7c7c7c" stroke-width="1"/>
<text class="lg" x="480.40 485.25 490.10 494.95" y="258.93">0.55</text>
<text class="lg ld" x="504.4" y="258.43" textLength="9.6" lengthAdjust="spacingAndGlyphs">—</text>
<text class="lg" x="521.00 525.85 530.70" y="258.93">0.6</text>
<rect x="449.4" y="266.96" width="26.2" height="12.6" fill="#88ff00" stroke="#7c7c7c" stroke-width="1"/>
<text class="lg" x="480.40 485.25 490.10" y="276.66">0.6</text>
<text class="lg ld" x="504.4" y="276.16" textLength="9.6" lengthAdjust="spacingAndGlyphs">—</text>
<text class="lg" x="521.00 525.85 530.70 535.55" y="276.66">0.65</text>
<rect x="449.4" y="284.69" width="26.2" height="12.6" fill="#ccff00" stroke="#7c7c7c" stroke-width="1"/>
<text class="lg" x="480.40 485.25 490.10 494.95" y="294.39">0.65</text>
<text class="lg ld" x="504.4" y="293.89" textLength="9.6" lengthAdjust="spacingAndGlyphs">—</text>
<text class="lg" x="521.00 525.85 530.70" y="294.39">0.7</text>
<rect x="449.4" y="302.42" width="26.2" height="12.6" fill="#ffee00" stroke="#7c7c7c" stroke-width="1"/>
<text class="lg" x="480.40 485.25 490.10" y="312.12">0.7</text>
<text class="lg ld" x="504.4" y="311.62" textLength="9.6" lengthAdjust="spacingAndGlyphs">—</text>
<text class="lg" x="521.00 525.85 530.70 535.55" y="312.12">0.75</text>
<rect x="449.4" y="320.15" width="26.2" height="12.6" fill="#ffbb00" stroke="#7c7c7c" stroke-width="1"/>
<text class="lg" x="480.40 485.25 490.10 494.95" y="329.85">0.75</text>
<text class="lg ld" x="504.4" y="329.35" textLength="9.6" lengthAdjust="spacingAndGlyphs">—</text>
<text class="lg" x="521.00 525.85 530.70" y="329.85">0.8</text>
<rect x="449.4" y="337.88" width="26.2" height="12.6" fill="#ff8800" stroke="#7c7c7c" stroke-width="1"/>
<text class="lg" x="480.40 485.25 490.10" y="347.58">0.8</text>
<text class="lg ld" x="504.4" y="347.08" textLength="9.6" lengthAdjust="spacingAndGlyphs">—</text>
<text class="lg" x="521.00 525.85 530.70 535.55" y="347.58">0.85</text>
<rect x="449.4" y="355.61" width="26.2" height="12.6" fill="#e05a00" stroke="#7c7c7c" stroke-width="1"/>
<text class="lg" x="480.40 485.25 490.10 494.95" y="365.31">0.85</text>
<text class="lg ld" x="504.4" y="364.81" textLength="9.6" lengthAdjust="spacingAndGlyphs">—</text>
<text class="lg" x="521.00 525.85 530.70" y="365.31">0.9</text>
<rect x="449.4" y="373.34" width="26.2" height="12.6" fill="#b03000" stroke="#7c7c7c" stroke-width="1"/>
<text class="lg" x="480.40 485.25 490.10" y="383.04">0.9</text>
<text class="lg ld" x="504.4" y="382.54" textLength="9.6" lengthAdjust="spacingAndGlyphs">—</text>
<text class="lg" x="521.00 525.85 530.70 535.55" y="383.04">0.95</text>
<rect x="449.4" y="391.07" width="26.2" height="12.6" fill="#800000" stroke="#7c7c7c" stroke-width="1"/>
<text class="lg" x="480.40 485.25 490.10 494.95" y="400.77">0.95</text>
<text class="lg ld" x="504.4" y="400.27" textLength="9.6" lengthAdjust="spacingAndGlyphs">—</text>
<text class="lg" x="521.00" y="400.77">1</text>
<!-- panel b -->
<g transform="translate(0.069,435.090) scale(1.00786,1.00662)">
<g stroke="#c6c6c6" stroke-width="0.55" fill="none"><line x1="35.6" y1="16.6" x2="20.0" y2="409.5"/><line x1="110.5" y1="16.6" x2="93.3" y2="409.5"/><line x1="185.3" y1="16.6" x2="172.4" y2="409.5"/><line x1="260" y1="16.6" x2="251.5" y2="409.5"/><line x1="334.5" y1="16.6" x2="330.6" y2="409.5"/><line x1="409" y1="16.6" x2="409.3" y2="409.5"/><path d="M16.6,51 Q220.10000000000002,57.95 423.6,62.5" fill="none"/><path d="M16.6,149 Q220.10000000000002,155.7 423.6,160" fill="none"/><path d="M16.6,247 Q220.10000000000002,253.45 423.6,257.5" fill="none"/><path d="M16.6,345 Q220.10000000000002,351.2 423.6,355" fill="none"/></g>
<g clip-path="url(#clipmap)">
<g transform="rotate(32 230 200)"><g filter="url(#texb)"><g transform="rotate(-32 230 200)">
<rect x="-100" y="-150" width="700" height="700" fill="#255721"/>
<ellipse cx="126" cy="140" rx="18" ry="55" fill="#384214" opacity="0.95" filter="url(#b6)"/>
<ellipse cx="180" cy="178" rx="30" ry="16" fill="#0f4040" opacity="0.8" filter="url(#b8)" transform="rotate(15 180 178)"/>
<ellipse cx="130" cy="108" rx="12" ry="10" fill="#44591a" opacity="0.9" filter="url(#b4)"/>
<ellipse cx="121" cy="195" rx="8" ry="20" fill="#44591a" opacity="0.9" filter="url(#b4)"/>
<ellipse cx="100" cy="58" rx="16" ry="20" fill="#0d3333" opacity="0.95" filter="url(#b6)"/>
<ellipse cx="150" cy="88" rx="40" ry="10" fill="#0f3333" opacity="0.9" filter="url(#b6)" transform="rotate(28 150 88)"/>
<ellipse cx="248" cy="165" rx="30" ry="45" fill="#0a404c" opacity="0.9" filter="url(#b8)" transform="rotate(20 248 165)"/>
<ellipse cx="185" cy="235" rx="45" ry="11" fill="#09265c" opacity="0.85" filter="url(#b6)" transform="rotate(25 185 235)"/>
<ellipse cx="335" cy="160" rx="72" ry="75" fill="#285c1a" opacity="0.8" filter="url(#b14)"/>
<ellipse cx="185" cy="322" rx="75" ry="38" fill="#2b801a" opacity="0.95" filter="url(#b10)"/>
<ellipse cx="172" cy="306" rx="42" ry="14" fill="#1dcc1a" opacity="0.8" filter="url(#b8)"/>
<ellipse cx="222" cy="288" rx="40" ry="3" fill="#183326" opacity="0.85" filter="url(#b2)" transform="rotate(2 222 288)"/>
<ellipse cx="217" cy="297" rx="9" ry="3.5" fill="#87ff1a" opacity="0.95" filter="url(#b1)" transform="rotate(-8 217 297)"/>
<ellipse cx="160" cy="300" rx="5" ry="2.5" fill="#5eff1a" opacity="0.9" filter="url(#b1)"/>
<ellipse cx="226" cy="346" rx="11" ry="9" fill="#36991a" opacity="0.8" filter="url(#b4)"/>
<ellipse cx="396" cy="195" rx="7" ry="22" fill="#40801a" opacity="0.8" filter="url(#b4)"/>
<ellipse cx="72" cy="322" rx="12" ry="10" fill="#145721" opacity="0.9" filter="url(#b4)"/>
</g></g></g>
<polygon points="40,140 103,150 104,173 106,196 107.5,214 115,223 91,318 84,322 70,318 60,306 40,300" fill="#fff"/>
<g clip-path="url(#clipwb)"><g stroke="#c6c6c6" stroke-width="0.55" fill="none"><line x1="35.6" y1="16.6" x2="20.0" y2="409.5"/><line x1="110.5" y1="16.6" x2="93.3" y2="409.5"/><line x1="185.3" y1="16.6" x2="172.4" y2="409.5"/><line x1="260" y1="16.6" x2="251.5" y2="409.5"/><line x1="334.5" y1="16.6" x2="330.6" y2="409.5"/><line x1="409" y1="16.6" x2="409.3" y2="409.5"/><path d="M16.6,51 Q220.10000000000002,57.95 423.6,62.5" fill="none"/><path d="M16.6,149 Q220.10000000000002,155.7 423.6,160" fill="none"/><path d="M16.6,247 Q220.10000000000002,253.45 423.6,257.5" fill="none"/><path d="M16.6,345 Q220.10000000000002,351.2 423.6,355" fill="none"/></g></g>
<g opacity="0.85"><circle cx="90.6" cy="254.6" r="0.6" fill="#aa00ff"/><circle cx="82.1" cy="302.3" r="0.9" fill="#4400ff"/><circle cx="107.1" cy="239.4" r="0.5" fill="#8a70ff"/><circle cx="101.9" cy="220.0" r="0.9" fill="#aa00ff"/><circle cx="83.1" cy="219.9" r="0.6" fill="#4400ff"/><circle cx="87.3" cy="291.4" r="0.5" fill="#2a3cf0"/><circle cx="86.7" cy="224.2" r="0.9" fill="#4400ff"/><circle cx="94.6" cy="291.2" r="0.9" fill="#2a3cf0"/><circle cx="83.2" cy="240.3" r="0.5" fill="#8a70ff"/><circle cx="90.0" cy="206.5" r="0.9" fill="#aa00ff"/><circle cx="90.9" cy="202.8" r="0.5" fill="#4400ff"/><circle cx="94.2" cy="214.3" r="0.6" fill="#2a3cf0"/><circle cx="83.8" cy="201.0" r="0.5" fill="#4400ff"/><circle cx="92.6" cy="267.6" r="0.6" fill="#8a70ff"/><circle cx="86.0" cy="208.1" r="0.5" fill="#aa00ff"/><circle cx="94.8" cy="220.4" r="0.5" fill="#4400ff"/><circle cx="101.7" cy="231.9" r="0.6" fill="#2a3cf0"/><circle cx="90.5" cy="287.0" r="0.5" fill="#4400ff"/><circle cx="86.4" cy="302.5" r="0.6" fill="#aa00ff"/><circle cx="82.8" cy="272.1" r="0.7" fill="#4400ff"/><circle cx="83.2" cy="302.3" r="0.7" fill="#8a70ff"/><circle cx="86.2" cy="224.8" r="0.5" fill="#8a70ff"/><circle cx="86.3" cy="294.3" r="0.9" fill="#4400ff"/><circle cx="95.5" cy="225.2" r="0.7" fill="#4400ff"/><circle cx="89.9" cy="236.2" r="0.5" fill="#4400ff"/><circle cx="96.3" cy="245.0" r="0.9" fill="#8a70ff"/><circle cx="102.6" cy="240.8" r="0.5" fill="#8a70ff"/><circle cx="83.7" cy="276.4" r="0.9" fill="#2a3cf0"/><circle cx="86.7" cy="312.8" r="0.6" fill="#2a3cf0"/><circle cx="99.7" cy="220.2" r="0.7" fill="#4400ff"/><circle cx="102.5" cy="206.0" r="0.6" fill="#2a3cf0"/><circle cx="90.5" cy="311.7" r="0.6" fill="#4400ff"/><circle cx="91.5" cy="205.8" r="0.9" fill="#2a3cf0"/><circle cx="100.0" cy="272.2" r="0.7" fill="#2a3cf0"/></g>
<g transform="rotate(64 230 200)"><g filter="url(#spkW)"><g transform="rotate(-64 230 200)">
<ellipse cx="146" cy="70" rx="54" ry="16" fill="#fff" opacity="1" filter="url(#b6)" transform="rotate(28 146 70)"/><ellipse cx="102" cy="50" rx="9" ry="13" fill="#fff" opacity="0.95" filter="url(#b4)"/><ellipse cx="110" cy="150" rx="8" ry="38" fill="#fff" opacity="0.9" filter="url(#b4)" transform="rotate(-10 110 150)"/><ellipse cx="74" cy="326" rx="16" ry="12" fill="#fff" opacity="0.9" filter="url(#b4)"/><ellipse cx="122" cy="250" rx="6" ry="5" fill="#fff" opacity="0.9" filter="url(#b2)"/>
</g></g></g>
</g>
<polygon points="105.5,35.0 118.0,47.0 134.5,58.0 160.0,69.0 168.0,71.0 171.0,70.5 174.0,74.0 185.5,80.0 203.6,87.0 222.0,94.5 234.5,103.6 245.5,114.5 250.0,118.0 255.8,120.0 260.0,113.6 261.6,105.0 266.0,99.0 273.0,95.6 277.6,90.4 274.7,83.0 277.6,81.0 282.0,81.0 283.5,85.0 290.7,86.0 301.0,87.5 311.0,89.0 319.8,91.0 327.0,93.9 331.5,95.6 337.3,92.7 343.0,90.4 345.4,94.7 343.7,100.5 346.0,103.5 351.8,100.5 356.0,101.4 362.0,109.0 366.4,116.5 370.7,123.0 367.8,124.7 363.5,122.4 360.5,123.8 362.0,129.6 366.4,135.5 372.0,142.7 379.5,153.0 386.7,163.0 394.0,173.0 398.4,183.5 401.3,195.0 403.0,204.0 400.0,212.0 394.0,218.0 388.0,222.0 380.0,228.0 377.0,234.0 375.0,237.6 372.0,237.0 369.0,232.0 367.0,226.0 364.0,220.0 360.0,214.0 356.0,220.0 351.0,224.0 346.0,225.0 340.0,225.6 336.0,230.0 335.6,236.0 338.0,243.0 341.0,249.0 341.0,253.0 343.6,257.0 340.0,259.0 341.0,263.0 338.0,266.0 341.0,270.0 343.6,275.0 341.0,274.0 337.0,270.0 334.0,266.0 330.0,268.0 326.0,270.0 322.0,273.0 318.0,277.0 313.0,277.0 311.0,280.0 306.0,284.0 304.0,288.0 303.6,294.5 303.6,300.0 294.5,307.0 278.0,316.0 270.0,321.0 261.0,323.8 252.5,326.7 244.4,329.6 242.4,335.5 238.0,341.0 235.7,347.0 237.4,351.5 232.0,354.4 225.0,353.8 217.6,353.0 213.3,350.0 216.0,342.7 217.6,335.5 213.3,328.0 210.4,322.4 207.5,315.0 203.0,316.5 197.3,319.5 193.0,322.4 197.3,327.6 191.5,331.0 185.6,335.5 178.4,339.8 172.5,342.7 166.7,341.3 163.8,335.5 161.0,329.6 156.5,329.6 153.0,335.5 153.0,341.3 149.3,346.2 152.2,351.5 150.7,357.3 147.8,364.5 143.5,367.5 137.6,366.0 134.7,361.6 127.5,357.3 121.6,354.4 118.7,347.0 120.0,339.8 115.8,338.4 107.9,337.5 96.3,336.0 87.0,334.0 79.0,338.7 75.5,335.0 68.5,337.5 66.2,333.0 69.7,321.0 67.4,312.0 60.4,299.0 63.9,291.0 75.5,286.6 80.0,279.6 87.0,270.0 84.7,261.0 82.0,252.0 87.0,243.8 87.0,234.5 70.8,225.0 62.7,218.0 62.7,213.7 74.3,203.0 77.8,191.7 80.0,177.8 89.4,169.7 99.8,159.0 100.5,153.0 98.0,147.0 92.7,141.8 90.0,132.7 91.0,123.6 107.0,114.5 112.7,98.0 111.0,82.0 107.0,71.0 91.0,74.5 86.5,65.5 88.4,54.5 94.5,41.8" fill="none" stroke="#141018" stroke-width="1.1" stroke-linejoin="round"/>
<polyline points="89.4,169.7 103.0,178.0 119.4,185.5 131.0,188.5 142.6,187.0 154.0,180.0 165.5,176.5 172.7,179.0 180.0,190.0 189.0,201.0 200.0,208.0 211.0,217.0 211.0,228.0 207.0,243.0 203.6,255.5 200.5,266.0 202.7,271.0 206.0,274.4 214.0,277.0 217.3,284.0" fill="none" stroke="#141018" stroke-width="0.95" stroke-linejoin="round"/>
<polyline points="220.0,138.0 217.0,150.0 214.5,170.0 216.0,192.0 214.0,206.0 211.0,217.0" fill="none" stroke="#141018" stroke-width="0.95" stroke-linejoin="round"/>
<polyline points="220.0,138.0 227.0,132.7 238.0,127.0 250.0,121.5 255.8,120.0" fill="none" stroke="#141018" stroke-width="0.95" stroke-linejoin="round"/>
<polyline points="255.8,120.0 267.5,121.0 274.7,122.4 279.0,125.3 282.0,132.5 287.8,135.5 292.0,142.7 296.5,148.5 293.6,154.4 296.5,158.7 303.8,161.6 308.0,163.7" fill="none" stroke="#141018" stroke-width="0.95" stroke-linejoin="round"/>
<polyline points="308.0,163.7 311.0,154.4 322.7,147.0 334.4,139.8 347.5,132.5 349.0,126.7 347.5,121.0 343.7,116.5 346.0,115.0 351.8,118.0 357.6,123.8 360.5,123.8" fill="none" stroke="#141018" stroke-width="0.95" stroke-linejoin="round"/>
<polyline points="308.0,163.7 303.8,170.0 296.5,176.0 289.0,182.0 285.0,187.8 277.6,193.6 273.0,200.0 265.5,209.0 258.0,218.0 254.5,221.0 251.0,227.0 252.7,240.0 260.0,251.0 254.5,260.0 252.7,265.5 260.0,271.0 263.6,278.0 262.0,287.0 271.0,294.5 276.0,305.5 278.0,316.0" fill="none" stroke="#141018" stroke-width="0.95" stroke-linejoin="round"/>
<polyline points="308.0,163.7 309.6,169.0 317.0,174.7 319.8,182.0 318.4,189.0 324.0,198.0 332.7,200.0 343.0,203.0 350.0,208.0 357.0,210.0 360.0,214.0" fill="none" stroke="#141018" stroke-width="0.95" stroke-linejoin="round"/>
<polyline points="260.0,251.0 271.0,249.0 283.6,247.0 285.5,238.0 298.0,240.0 309.0,234.5 312.7,243.6 316.0,254.0 320.0,258.0 328.0,260.0 334.0,262.0 340.0,260.0" fill="none" stroke="#141018" stroke-width="0.95" stroke-linejoin="round"/>
<polyline points="254.5,260.0 242.0,265.5 238.0,258.0 238.5,268.0 240.0,274.0 238.0,280.0 235.0,286.0 226.4,286.9 217.3,284.0 207.5,286.0 198.7,289.0" fill="none" stroke="#141018" stroke-width="0.95" stroke-linejoin="round"/>
<polyline points="87.0,235.6 96.3,238.0 108.0,239.0 112.5,236.8 119.4,241.4 127.5,247.0 132.0,254.0 139.0,261.0 149.5,265.7 158.8,269.0 171.0,273.0 179.0,282.0 186.0,287.0 192.0,289.5 198.7,289.0" fill="none" stroke="#141018" stroke-width="0.95" stroke-linejoin="round"/>
<polyline points="198.7,289.0 203.0,294.7 201.6,300.5 204.5,307.8 207.5,315.0" fill="none" stroke="#141018" stroke-width="0.95" stroke-linejoin="round"/>
<polyline points="149.5,265.7 148.4,275.0 140.0,279.6 128.7,284.0 123.0,291.0 125.0,298.0 119.4,307.0 118.3,319.0 120.6,333.0 119.2,338.0" fill="none" stroke="#141018" stroke-width="0.95" stroke-linejoin="round"/>
<g>
<rect x="270.3" y="392.8" width="70.8" height="8.2" fill="#000"/>
<rect x="279.4" y="393.6" width="8.3" height="6.6" fill="#fff"/>
<rect x="296.7" y="393.6" width="8.4" height="6.6" fill="#fff"/>
<text class="sb" x="266.6" y="389.1" textLength="8" lengthAdjust="spacingAndGlyphs">40</text>
<text class="sb" x="282.6" y="389.1" textLength="8.4" lengthAdjust="spacingAndGlyphs">20</text>
<text class="sb" x="303.2" y="389.1">0</text>
<text class="sb" x="336.9" y="389.1" textLength="57" lengthAdjust="spacing">40 Kilometers</text>
</g>
</g>
<rect x="16.8" y="451.8" width="410.20" height="395.50" fill="none" stroke="#0c0c0c" stroke-width="1.6"/>
<g stroke="#0c0c0c" stroke-width="1.1"><line x1="35.9" y1="446.40000000000003" x2="35.9" y2="451.8"/><line x1="111.4" y1="446.40000000000003" x2="111.4" y2="451.8"/><line x1="186.8" y1="446.40000000000003" x2="186.8" y2="451.8"/><line x1="262.1" y1="446.40000000000003" x2="262.1" y2="451.8"/><line x1="337.2" y1="446.40000000000003" x2="337.2" y2="451.8"/><line x1="412.3" y1="446.40000000000003" x2="412.3" y2="451.8"/><line x1="94.1" y1="847.3" x2="94.1" y2="852.6999999999999"/><line x1="173.8" y1="847.3" x2="173.8" y2="852.6999999999999"/><line x1="253.5" y1="847.3" x2="253.5" y2="852.6999999999999"/><line x1="333.3" y1="847.3" x2="333.3" y2="852.6999999999999"/><line x1="412.6" y1="847.3" x2="412.6" y2="852.6999999999999"/><line x1="12.200000000000001" y1="486.4" x2="16.8" y2="486.4"/><line x1="12.200000000000001" y1="585.1" x2="16.8" y2="585.1"/><line x1="12.200000000000001" y1="683.7" x2="16.8" y2="683.7"/><line x1="12.200000000000001" y1="782.4" x2="16.8" y2="782.4"/><line x1="427.0" y1="498.0" x2="431.6" y2="498.0"/><line x1="427.0" y1="596.1" x2="431.6" y2="596.1"/><line x1="427.0" y1="694.3" x2="431.6" y2="694.3"/><line x1="427.0" y1="792.4" x2="431.6" y2="792.4"/></g>
<text class="tk" text-anchor="middle" x="35.9" y="444.3">106°0'0"E</text>
<text class="tk" text-anchor="middle" x="111.4" y="444.3">107°0'0"E</text>
<text class="tk" text-anchor="middle" x="186.8" y="444.3">108°0'0"E</text>
<text class="tk" text-anchor="middle" x="262.1" y="444.3">109°0'0"E</text>
<text class="tk" text-anchor="middle" x="337.2" y="444.3">110°0'0"E</text>
<text class="tk" text-anchor="middle" x="412.3" y="444.3">111°0'0"E</text>
<text class="tk" text-anchor="middle" x="94.1" y="861.7">107°0'0"E</text>
<text class="tk" text-anchor="middle" x="173.8" y="861.7">108°0'0"E</text>
<text class="tk" text-anchor="middle" x="253.5" y="861.7">109°0'0"E</text>
<text class="tk" text-anchor="middle" x="333.3" y="861.7">110°0'0"E</text>
<text class="tk" text-anchor="middle" x="412.6" y="861.7">111°0'0"E</text>
<text class="tk" text-anchor="middle" transform="translate(8.5,486.4) rotate(-90)">40°0'0"N</text>
<text class="tk" text-anchor="middle" transform="translate(8.5,585.1) rotate(-90)">39°0'0"N</text>
<text class="tk" text-anchor="middle" transform="translate(8.5,683.7) rotate(-90)">38°0'0"N</text>
<text class="tk" text-anchor="middle" transform="translate(8.5,782.4) rotate(-90)">37°0'0"N</text>
<text class="pl" x="384.8" y="482.8">(b)</text>
<rect x="443.0" y="456.0" width="103.9" height="395.2" fill="#fff" stroke="#111" stroke-width="1.7"/>
<text x="452.6" y="471.6" font-size="16.8" fill="#111">Legend</text>
<text x="452.8" y="489.4" font-size="12.4" fill="#111">Coverage range</text>
<rect x="449.4" y="494.20" width="26.2" height="12.6" fill="#ffffff" stroke="#7c7c7c" stroke-width="1"/>
<text class="lg" x="480.40" y="503.90">0</text>
<text class="lg ld" x="504.4" y="503.40" textLength="9.6" lengthAdjust="spacingAndGlyphs">—</text>
<text class="lg" x="521.00 525.85 530.70 535.55" y="503.90">0.05</text>
<rect x="449.4" y="511.93" width="26.2" height="12.6" fill="#ffb8ff" stroke="#7c7c7c" stroke-width="1"/>
<text class="lg" x="480.40 485.25 490.10 494.95" y="521.63">0.05</text>
<text class="lg ld" x="504.4" y="521.13" textLength="9.6" lengthAdjust="spacingAndGlyphs">—</text>
<text class="lg" x="521.00 525.85 530.70" y="521.63">0.1</text>
<rect x="449.4" y="529.66" width="26.2" height="12.6" fill="#ff5cff" stroke="#7c7c7c" stroke-width="1"/>
<text class="lg" x="480.40 485.25 490.10 494.95" y="539.36">0.10</text>
<text class="lg ld" x="504.4" y="538.86" textLength="9.6" lengthAdjust="spacingAndGlyphs">—</text>
<text class="lg" x="521.00 525.85 530.70 535.55" y="539.36">0.15</text>
<rect x="449.4" y="547.39" width="26.2" height="12.6" fill="#ff00ff" stroke="#7c7c7c" stroke-width="1"/>
<text class="lg" x="480.40 485.25 490.10 494.95" y="557.09">0.15</text>
<text class="lg ld" x="504.4" y="556.59" textLength="9.6" lengthAdjust="spacingAndGlyphs">—</text>
<text class="lg" x="521.00 525.85 530.70" y="557.09">0.2</text>
<rect x="449.4" y="565.12" width="26.2" height="12.6" fill="#aa00ff" stroke="#7c7c7c" stroke-width="1"/>
<text class="lg" x="480.40 485.25 490.10" y="574.82">0.2</text>
<text class="lg ld" x="504.4" y="574.32" textLength="9.6" lengthAdjust="spacingAndGlyphs">—</text>
<text class="lg" x="521.00 525.85 530.70 535.55" y="574.82">0.25</text>
<rect x="449.4" y="582.85" width="26.2" height="12.6" fill="#4400ff" stroke="#7c7c7c" stroke-width="1"/>
<text class="lg" x="480.40 485.25 490.10 494.95" y="592.55">0.25</text>
<text class="lg ld" x="504.4" y="592.05" textLength="9.6" lengthAdjust="spacingAndGlyphs">—</text>
<text class="lg" x="521.00 525.85 530.70" y="592.55">0.3</text>
<rect x="449.4" y="600.58" width="26.2" height="12.6" fill="#2a3cf0" stroke="#7c7c7c" stroke-width="1"/>
<text class="lg" x="480.40 485.25 490.10" y="610.28">0.3</text>
<text class="lg ld" x="504.4" y="609.78" textLength="9.6" lengthAdjust="spacingAndGlyphs">—</text>
<text class="lg" x="521.00 525.85 530.70 535.55" y="610.28">0.35</text>
<rect x="449.4" y="618.31" width="26.2" height="12.6" fill="#3b8cf0" stroke="#7c7c7c" stroke-width="1"/>
<text class="lg" x="480.40 485.25 490.10 494.95" y="628.01">0.35</text>
<text class="lg ld" x="504.4" y="627.51" textLength="9.6" lengthAdjust="spacingAndGlyphs">—</text>
<text class="lg" x="521.00 525.85 530.70" y="628.01">0.4</text>
<rect x="449.4" y="636.04" width="26.2" height="12.6" fill="#22eaff" stroke="#7c7c7c" stroke-width="1"/>
<text class="lg" x="480.40 485.25 490.10" y="645.74">0.4</text>
<text class="lg ld" x="504.4" y="645.24" textLength="9.6" lengthAdjust="spacingAndGlyphs">—</text>
<text class="lg" x="521.00 525.85 530.70 535.55" y="645.74">0.45</text>
<rect x="449.4" y="653.77" width="26.2" height="12.6" fill="#33ffbb" stroke="#7c7c7c" stroke-width="1"/>
<text class="lg" x="480.40 485.25 490.10 494.95" y="663.47">0.45</text>
<text class="lg ld" x="504.4" y="662.97" textLength="9.6" lengthAdjust="spacingAndGlyphs">—</text>
<text class="lg" x="521.00 525.85 530.70" y="663.47">0.5</text>
<rect x="449.4" y="671.50" width="26.2" height="12.6" fill="#33ff66" stroke="#7c7c7c" stroke-width="1"/>
<text class="lg" x="480.40 485.25 490.10" y="681.20">0.5</text>
<text class="lg ld" x="504.4" y="680.70" textLength="9.6" lengthAdjust="spacingAndGlyphs">—</text>
<text class="lg" x="521.00 525.85 530.70 535.55" y="681.20">0.55</text>
<rect x="449.4" y="689.23" width="26.2" height="12.6" fill="#33ff00" stroke="#7c7c7c" stroke-width="1"/>
<text class="lg" x="480.40 485.25 490.10 494.95" y="698.93">0.55</text>
<text class="lg ld" x="504.4" y="698.43" textLength="9.6" lengthAdjust="spacingAndGlyphs">—</text>
<text class="lg" x="521.00 525.85 530.70" y="698.93">0.6</text>
<rect x="449.4" y="706.96" width="26.2" height="12.6" fill="#88ff00" stroke="#7c7c7c" stroke-width="1"/>
<text class="lg" x="480.40 485.25 490.10" y="716.66">0.6</text>
<text class="lg ld" x="504.4" y="716.16" textLength="9.6" lengthAdjust="spacingAndGlyphs">—</text>
<text class="lg" x="521.00 525.85 530.70 535.55" y="716.66">0.65</text>
<rect x="449.4" y="724.69" width="26.2" height="12.6" fill="#ccff00" stroke="#7c7c7c" stroke-width="1"/>
<text class="lg" x="480.40 485.25 490.10 494.95" y="734.39">0.65</text>
<text class="lg ld" x="504.4" y="733.89" textLength="9.6" lengthAdjust="spacingAndGlyphs">—</text>
<text class="lg" x="521.00 525.85 530.70" y="734.39">0.7</text>
<rect x="449.4" y="742.42" width="26.2" height="12.6" fill="#ffee00" stroke="#7c7c7c" stroke-width="1"/>
<text class="lg" x="480.40 485.25 490.10" y="752.12">0.7</text>
<text class="lg ld" x="504.4" y="751.62" textLength="9.6" lengthAdjust="spacingAndGlyphs">—</text>
<text class="lg" x="521.00 525.85 530.70 535.55" y="752.12">0.75</text>
<rect x="449.4" y="760.15" width="26.2" height="12.6" fill="#ffbb00" stroke="#7c7c7c" stroke-width="1"/>
<text class="lg" x="480.40 485.25 490.10 494.95" y="769.85">0.75</text>
<text class="lg ld" x="504.4" y="769.35" textLength="9.6" lengthAdjust="spacingAndGlyphs">—</text>
<text class="lg" x="521.00 525.85 530.70" y="769.85">0.8</text>
<rect x="449.4" y="777.88" width="26.2" height="12.6" fill="#ff8800" stroke="#7c7c7c" stroke-width="1"/>
<text class="lg" x="480.40 485.25 490.10" y="787.58">0.8</text>
<text class="lg ld" x="504.4" y="787.08" textLength="9.6" lengthAdjust="spacingAndGlyphs">—</text>
<text class="lg" x="521.00 525.85 530.70 535.55" y="787.58">0.85</text>
<rect x="449.4" y="795.61" width="26.2" height="12.6" fill="#e05a00" stroke="#7c7c7c" stroke-width="1"/>
<text class="lg" x="480.40 485.25 490.10 494.95" y="805.31">0.85</text>
<text class="lg ld" x="504.4" y="804.81" textLength="9.6" lengthAdjust="spacingAndGlyphs">—</text>
<text class="lg" x="521.00 525.85 530.70" y="805.31">0.9</text>
<rect x="449.4" y="813.34" width="26.2" height="12.6" fill="#b03000" stroke="#7c7c7c" stroke-width="1"/>
<text class="lg" x="480.40 485.25 490.10" y="823.04">0.9</text>
<text class="lg ld" x="504.4" y="822.54" textLength="9.6" lengthAdjust="spacingAndGlyphs">—</text>
<text class="lg" x="521.00 525.85 530.70 535.55" y="823.04">0.95</text>
<rect x="449.4" y="831.07" width="26.2" height="12.6" fill="#800000" stroke="#7c7c7c" stroke-width="1"/>
<text class="lg" x="480.40 485.25 490.10 494.95" y="840.77">0.95</text>
<text class="lg ld" x="504.4" y="840.27" textLength="9.6" lengthAdjust="spacingAndGlyphs">—</text>
<text class="lg" x="521.00" y="840.77">1</text>
</svg>
</body></html>
